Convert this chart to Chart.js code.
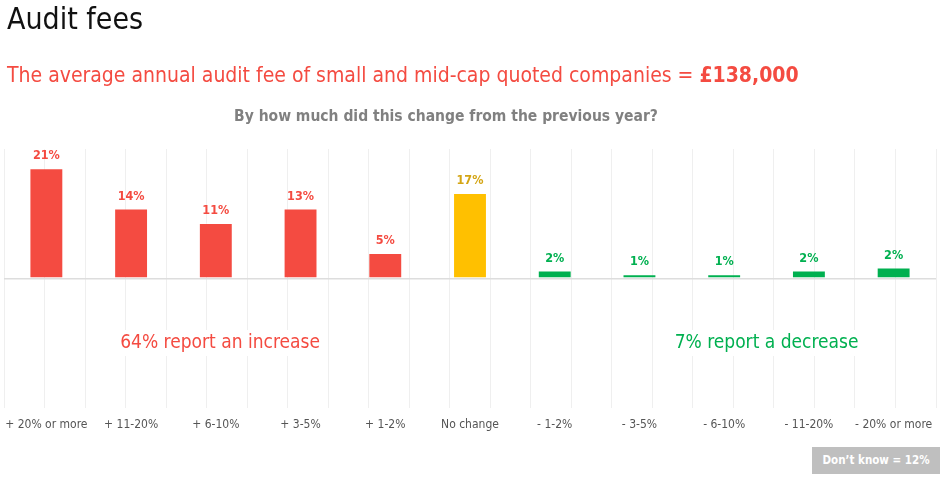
<!DOCTYPE html>
<html lang="en">
  <head>
    <meta charset="UTF-8" />
    <script src="https://cdn.jsdelivr.net/npm/chart.js@4.4.1/dist/chart.umd.min.js"></script>
    <title>Audit fees</title>
    <style>
      body {
        margin: 0;
        padding: 0;
        background: white;
        font-family: 'DejaVu Sans Condensed', 'DejaVu Sans', sans-serif;
      }
      .page {
        position: relative;
        width: 947px;
        height: 481px;
        overflow: hidden;
      }
      .title {
        position: absolute;
        left: 7px;
        top: 1px;
        font-size: 30px;
        color: #111;
      }
      .sub {
        position: absolute;
        left: 7px;
        top: 63px;
        font-size: 21px;
        color: #f44b41;
      }
      .question {
        position: absolute;
        left: 0;
        width: 892px;
        top: 107px;
        text-align: center;
        font-size: 15.5px;
        font-weight: bold;
        color: #808080;
      }
      .dontknow {
        position: absolute;
        left: 812px;
        top: 447px;
        width: 128px;
        height: 27px;
        line-height: 27px;
        background: #bfbfbf;
        color: white;
        font-weight: bold;
        font-size: 11.5px;
        text-align: center;
      }
      .chartbox {
        position: absolute;
        left: 0;
        top: 0;
        width: 947px;
        height: 481px;
      }
    </style>
  </head>
  <body>
    <div class="page">
      <div class="chartbox"><canvas id="chart"></canvas></div>
      <div class="title">Audit fees</div>
      <div class="sub">The average annual audit fee of small and mid-cap quoted companies = <b>£138,000</b></div>
      <div class="question">By how much did this change from the previous year?</div>
      <div class="dontknow">Don’t know = 12%</div>
    </div>
    <script>
      const categories = ['+ 20% or more', '+ 11-20%', '+ 6-10%', '+ 3-5%', '+ 1-2%', 'No change', '- 1-2%', '- 3-5%', '- 6-10%', '- 11-20%', '- 20% or more']
      const values = [21.3, 13.5, 10.7, 13.5, 4.9, 16.5, 1.5, 0.8, 0.8, 1.5, 2.1]
      const valueLabels = ['21%', '14%', '11%', '13%', '5%', '17%', '2%', '1%', '1%', '2%', '2%']
      const notes = [
        { text: '64% report an increase', x: 2.05, y: -12.5, color: '#f44b41' },
        { text: '7% report a decrease', x: 8.5, y: -12.5, color: '#00b050' },
      ]

      const RED = '#f44b41'
      const YELLOW = '#ffc000'
      const GREEN = '#00b050'
      const barColors = categories.map((c, i) => (i < 5 ? RED : i === 5 ? YELLOW : GREEN))
      const labelColors = categories.map((c, i) => (i < 5 ? RED : i === 5 ? '#d4a514' : GREEN))
      const FONT = "'DejaVu Sans Condensed', 'DejaVu Sans', sans-serif"

      const barLabels = {
        id: 'barLabels',
        afterDatasetsDraw(chart) {
          const ctx = chart.ctx
          const meta = chart.getDatasetMeta(0)
          ctx.save()
          ctx.font = 'bold 12.5px ' + FONT
          ctx.textAlign = 'center'
          ctx.textBaseline = 'middle'
          meta.data.forEach((bar, i) => {
            ctx.fillStyle = labelColors[i]
            ctx.fillText(valueLabels[i], bar.x, bar.y - 12)
          })
          ctx.restore()
        },
      }

      const notesPlugin = {
        id: 'notes',
        afterDraw(chart) {
          const ctx = chart.ctx
          const xs = chart.scales.x
          const ys = chart.scales.y
          ctx.save()
          ctx.font = '19px ' + FONT
          ctx.textAlign = 'center'
          ctx.textBaseline = 'middle'
          notes.forEach((n) => {
            const px = xs.left + (xs.width / categories.length) * (n.x + 0.5)
            const py = ys.getPixelForValue(n.y)
            const w = ctx.measureText(n.text).width
            ctx.fillStyle = 'white'
            ctx.fillRect(px - w / 2 - 4, py - 13, w + 8, 26)
            ctx.fillStyle = n.color
            ctx.fillText(n.text, px, py)
          })
          ctx.restore()
        },
      }

      new Chart(document.getElementById('chart'), {
        type: 'bar',
        data: {
          labels: categories,
          datasets: [
            {
              data: values,
              backgroundColor: barColors,
              borderColor: 'rgba(255,255,255,0.3)',
              borderWidth: 1,
              barPercentage: 0.4,
              categoryPercentage: 1,
            },
          ],
        },
        options: {
          responsive: true,
          maintainAspectRatio: false,
          animation: false,
          layout: { padding: { top: 149, left: 4, right: 11, bottom: 47 } },
          plugins: {
            legend: { display: false },
            tooltip: { enabled: false },
          },
          scales: {
            x: {
              grid: { display: false },
              border: { display: false },
              ticks: {
                color: '#555555',
                font: { family: FONT, size: 12 },
                maxRotation: 0,
                autoSkip: false,
                padding: 2,
              },
            },
            g: {
              type: 'linear',
              position: 'bottom',
              min: -0.5,
              max: 10.5,
              ticks: { display: false, stepSize: 0.5 },
              grid: { color: '#efefef', drawTicks: false },
              border: { display: false },
            },
            y: {
              min: -25,
              max: 25,
              ticks: { display: false, stepSize: 25 },
              grid: {
                drawTicks: false,
                color: (c) => (c.tick && c.tick.value === 0 ? '#dddddd' : 'transparent'),
                lineWidth: 1.5,
              },
              border: { display: false },
            },
          },
        },
        plugins: [barLabels, notesPlugin],
      })
    </script>
  </body>
</html>
